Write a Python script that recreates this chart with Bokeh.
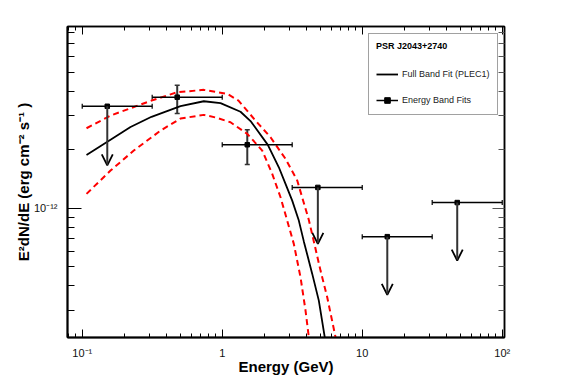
from bokeh.plotting import figure
from bokeh.models import (LogAxis, FixedTicker, Whisker, TeeHead, Arrow, OpenHead,
                          ColumnDataSource, Legend, LegendItem, Range1d)
from bokeh.embed import file_html
from bokeh.resources import INLINE

FONT = "Liberation Sans"

# ---- data ----
# energy band fits (GeV, erg cm^-2 s^-1)
band_energy = [0.151, 0.477, 1.51, 4.82, 15.1, 47.7]
band_elo = [0.1, 0.316, 1.0, 3.16, 10.0, 31.6]
band_ehi = [0.316, 1.0, 3.16, 10.0, 31.6, 100.0]
band_flux = [3.34e-12, 3.72e-12, 2.12e-12, 1.28e-12, 0.715e-12, 1.07e-12]

# detected bands (with vertical error bars)
det_energy = [0.477, 1.51]
det_flux_lo = [3.07e-12, 1.677e-12]
det_flux_hi = [4.28e-12, 2.53e-12]

# upper-limit bands (arrows)
ul_energy = [0.151, 4.82, 15.1, 47.7]
ul_flux = [3.34e-12, 1.28e-12, 0.715e-12, 1.07e-12]
ul_arrow_end = [1.66e-12, 0.656e-12, 0.359e-12, 0.539e-12]

# full band fit (PLEC1)
fit_energy = [0.1073, 0.1593, 0.2213, 0.3126, 0.5036, 0.7387, 0.9725, 1.351, 1.593,
              2.117, 2.537, 2.832, 3.162, 3.525, 3.827, 4.395, 4.898, 5.405]
fit_flux = [1.880e-12, 2.25e-12, 2.613e-12, 2.95e-12, 3.35e-12, 3.545e-12, 3.47e-12,
            3.13e-12, 2.805e-12, 2.117e-12, 1.624e-12, 1.335e-12, 1.095e-12,
            0.8646e-12, 0.676e-12, 0.4603e-12, 0.3357e-12, 0.2168e-12]

# upper / lower uncertainty band (red dashed)
up_energy = [0.1073, 0.1593, 0.3126, 0.4770, 0.7387, 1.086, 1.307, 1.729, 2.213,
             2.832, 3.434, 4.156, 4.511, 5.036, 5.623, 6.448]
up_flux = [2.576e-12, 2.994e-12, 3.574e-12, 3.943e-12, 4.056e-12, 3.869e-12, 3.574e-12,
           2.821e-12, 2.316e-12, 1.794e-12, 1.388e-12, 0.871e-12, 0.676e-12,
           0.4786e-12, 0.3490e-12, 0.2176e-12]
lo_energy = [0.1073, 0.1593, 0.2336, 0.3625, 0.5036, 0.7387, 0.921, 1.146, 1.509,
             1.931, 2.276, 2.609, 2.912, 3.246, 3.625, 3.936, 4.156]
lo_flux = [1.186e-12, 1.562e-12, 1.979e-12, 2.506e-12, 2.889e-12, 3.018e-12, 2.913e-12,
           2.765e-12, 2.411e-12, 1.979e-12, 1.502e-12, 1.139e-12, 0.8646e-12,
           0.6566e-12, 0.4420e-12, 0.2982e-12, 0.2176e-12]

# axis ticks
x_major = [0.1, 1, 10, 100]
x_labels = ["10\u207b\u00b9", "1", "10", "10\u00b2"]
y_major = [1e-12]
y_labels = ["10\u207b\u00b9\u00b2"]

x_minor = [m * d for d in [0.01, 0.1, 1, 10] for m in range(2, 10)]
y_minor = [m * d for d in [1e-13, 1e-12] for m in range(2, 10)]

x_range = (0.0785, 103.8)
y_range = (2.17e-13, 8.58e-12)

# ---- figure ----
p = figure(width=567, height=384, x_axis_type="log", y_axis_type="log",
           x_range=Range1d(*x_range), y_range=Range1d(*y_range),
           output_backend="svg", toolbar_location=None,
           min_border_left=67, min_border_right=63, min_border_top=26,
           min_border_bottom=47)
p.grid.visible = False
p.outline_line_color = "black"
p.outline_line_width = 1.5
p.background_fill_color = "white"
p.border_fill_color = "white"

xt = FixedTicker(ticks=x_major, minor_ticks=x_minor)
yt = FixedTicker(ticks=y_major, minor_ticks=y_minor)


def style_axis(ax, ticker, labels, major_len, minor_len, show_labels=True, color="black"):
    ax.ticker = ticker
    ax.major_tick_in = major_len
    ax.major_tick_out = 0
    ax.minor_tick_in = minor_len
    ax.minor_tick_out = 0
    ax.major_tick_line_color = color
    ax.minor_tick_line_color = color
    ax.major_tick_line_width = 1
    ax.minor_tick_line_width = 1
    ax.major_label_overrides = dict(zip(ticker.ticks, labels))
    ax.major_label_text_font = FONT
    ax.major_label_text_font_size = "11px"
    ax.major_label_text_color = "#111111"
    if not show_labels:
        ax.major_label_text_alpha = 0
        ax.major_label_standoff = 0


xb = p.xaxis[0]
style_axis(xb, xt, x_labels, 8, 4)
xb.axis_line_width = 2
xb.major_label_standoff = 9
xb.axis_label = "Energy (GeV)"
xb.axis_label_text_font = FONT
xb.axis_label_text_font_size = "15px"
xb.axis_label_text_font_style = "bold"
xb.axis_label_text_color = "black"
xb.axis_label_standoff = -4

yl = p.yaxis[0]
style_axis(yl, yt, y_labels, 14, 7)
yl.axis_line_width = 2
yl.major_label_standoff = 10
yl.axis_label = "E\u00b2dN/dE (erg cm\u207b\u00b2 s\u207b\u00b9 )"
yl.axis_label_text_font = FONT
yl.axis_label_text_font_size = "15px"
yl.axis_label_text_font_style = "bold"
yl.axis_label_text_color = "black"
yl.axis_label_standoff = -1

xtop = LogAxis()
style_axis(xtop, FixedTicker(ticks=x_major, minor_ticks=x_minor), x_labels, 8, 4,
           show_labels=False)
xtop.axis_line_width = 1.5
p.add_layout(xtop, "above")

yright = LogAxis()
style_axis(yright, FixedTicker(ticks=y_major, minor_ticks=y_minor), y_labels, 12, 6,
           show_labels=False, color="#555555")
yright.axis_line_width = 1.5
p.add_layout(yright, "right")

# ---- curves ----
fit_r = p.line(fit_energy, fit_flux, line_color="black", line_width=1.8)
p.line(up_energy, up_flux, line_color="#ff0000", line_width=2, line_dash="6 4")
p.line(lo_energy, lo_flux, line_color="#ff0000", line_width=2, line_dash="6 4")

# ---- band points ----
band_src = ColumnDataSource(dict(x=band_energy, y=band_flux, elo=band_elo, ehi=band_ehi))
hbar_r = p.segment(x0="elo", y0="y", x1="ehi", y1="y", source=band_src,
                   line_color="black", line_width=1.5)
p.add_layout(Whisker(base="y", lower="elo", upper="ehi", source=band_src,
                     dimension="width", line_alpha=0,
                     lower_head=TeeHead(size=5, line_color="black", line_width=1.2),
                     upper_head=TeeHead(size=5, line_color="black", line_width=1.2)))

det_src = ColumnDataSource(dict(x=det_energy, lo=det_flux_lo, hi=det_flux_hi))
p.add_layout(Whisker(base="x", lower="lo", upper="hi", source=det_src,
                     dimension="height", line_color="#333333", line_width=2,
                     lower_head=TeeHead(size=5, line_color="#333333", line_width=1.5),
                     upper_head=TeeHead(size=5, line_color="#333333", line_width=1.5)))

ul_src = ColumnDataSource(dict(x=ul_energy, y=ul_flux, yend=ul_arrow_end))
p.add_layout(Arrow(x_start="x", y_start="y", x_end="x", y_end="yend", source=ul_src,
                   line_color="#333333", line_width=2,
                   end=OpenHead(size=11, line_color="black", line_width=1.8)))

sq_r = p.scatter("x", "y", source=band_src, marker="square", size=4.5,
                 fill_color="black", line_color="black")

# ---- legend ----
legend = Legend(items=[LegendItem(label="Full Band Fit (PLEC1)", renderers=[fit_r]),
                       LegendItem(label="Energy Band Fits", renderers=[hbar_r, sq_r])],
                title="PSR J2043+2740", location=(301, 222),
                title_text_font=FONT, title_text_font_size="9px",
                title_text_font_style="bold", title_text_color="black",
                title_standoff=16,
                label_text_font=FONT, label_text_font_size="9px",
                label_text_color="#222222",
                glyph_width=22, glyph_height=14, label_height=14, label_width=80,
                label_standoff=4, spacing=12, padding=7, margin=0,
                border_line_color="#444444", border_line_width=1,
                background_fill_color="white", background_fill_alpha=1)
p.add_layout(legend)

open("out.html", "w").write(file_html(p, INLINE))
